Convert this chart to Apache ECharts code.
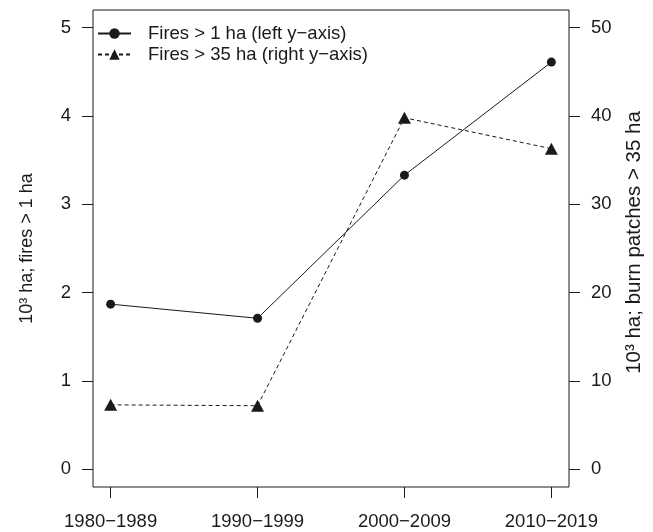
<!DOCTYPE html>
<html>
<head>
<meta charset="utf-8">
<script src="https://cdn.jsdelivr.net/npm/echarts@6/dist/echarts.min.js"></script>
<style>html,body{margin:0;padding:0;background:#fff;}#c{width:653px;height:532px;}</style>
</head>
<body>
<div id="c"></div>
<script>
const categories = ['1980\u22121989', '1990\u22121999', '2000\u22122009', '2010\u22122019'];
const fires1ha = [1.87, 1.71, 3.33, 4.61];
const fires35ha = [7.3, 7.2, 39.8, 36.3];
const leftTicks = [0, 1, 2, 3, 4, 5];
const rightTicks = [0, 10, 20, 30, 40, 50];
const xTicks = [1, 2, 3, 4];

const font = 'Liberation Sans, Arial, Helvetica, sans-serif';
const ink = '#1a1a1a';

const chart = echarts.init(document.getElementById('c'), null, {renderer: 'canvas'});
chart.setOption({
  animation: false,
  backgroundColor: '#fff',
  grid: {left: 93, right: 81, top: 10, bottom: 45, show: true, borderColor: ink, borderWidth: 1, backgroundColor: 'transparent', containLabel: false},
  legend: {
    left: 97, top: 23, padding: 0, orient: 'vertical', itemWidth: 33, itemHeight: 13, itemGap: 0,
    textStyle: {fontFamily: font, fontSize: 18.5, lineHeight: 21, color: ink, padding: [0, 0, 0, 12]},
    data: [
      {name: 'Fires > 1 ha (left y\u2212axis)'},
      {name: 'Fires > 35 ha (right y\u2212axis)'}
    ]
  },
  xAxis: {
    type: 'value', min: 0.88, max: 4.12,
    axisLine: {show: false, onZero: false},
    splitLine: {show: false},
    axisTick: {show: true, length: 11, lineStyle: {color: ink}, customValues: xTicks},
    axisLabel: {fontFamily: font, fontSize: 18.5, color: ink, margin: 25, customValues: xTicks,
      formatter: v => categories[Math.round(v) - 1] || ''}
  },
  yAxis: [
    {
      type: 'value', min: -0.2, max: 5.2, position: 'left',
      name: '10\u00b3 ha; fires > 1 ha', nameLocation: 'middle', nameGap: 57,
      nameTextStyle: {fontFamily: font, fontSize: 18, color: ink},
      axisLine: {show: false, onZero: false}, splitLine: {show: false},
      axisTick: {show: true, length: 11, lineStyle: {color: ink}, customValues: leftTicks},
      axisLabel: {fontFamily: font, fontSize: 18.5, color: ink, margin: 22, customValues: leftTicks}
    },
    {
      type: 'value', min: -2, max: 52, position: 'right',
      name: '10\u00b3 ha; burn patches > 35 ha', nameLocation: 'middle', nameGap: 55,
      nameTextStyle: {fontFamily: font, fontSize: 20.5, color: ink, padding: [0, 0, 0, 12]},
      axisLine: {show: false, onZero: false}, splitLine: {show: false},
      axisTick: {show: true, length: 11, lineStyle: {color: ink}, customValues: rightTicks},
      axisLabel: {fontFamily: font, fontSize: 18.5, color: ink, margin: 22, customValues: rightTicks}
    }
  ],
  series: [
    {
      name: 'Fires > 1 ha (left y\u2212axis)', type: 'line', yAxisIndex: 0,
      data: fires1ha.map((v, i) => [i + 1, v]),
      symbol: 'circle', symbolSize: 9,
      lineStyle: {color: ink, width: 1, type: 'solid'},
      itemStyle: {color: ink}
    },
    {
      name: 'Fires > 35 ha (right y\u2212axis)', type: 'line', yAxisIndex: 1,
      data: fires35ha.map((v, i) => [i + 1, v]),
      symbol: 'triangle', symbolSize: [13, 12],
      lineStyle: {color: ink, width: 1, type: [4, 3]},
      itemStyle: {color: ink}
    }
  ]
});
</script>
</body>
</html>
